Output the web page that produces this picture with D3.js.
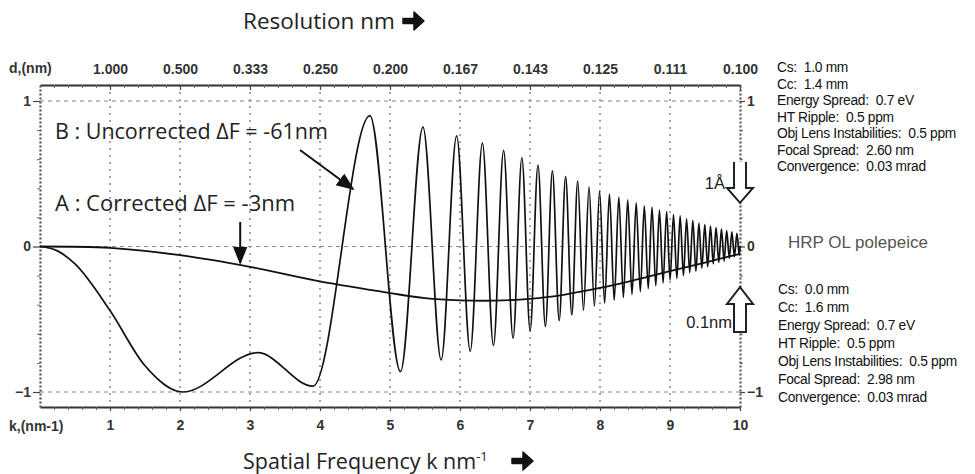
<!DOCTYPE html>
<html>
<head>
<meta charset="utf-8">
<script src="https://cdn.jsdelivr.net/npm/d3@7"></script>
<style>
  body { margin: 0; background: #fff; }
  svg { display: block; }
  .lbl { font-family: 'Liberation Sans', Arial, sans-serif; white-space: pre; }
</style>
</head>
<body>
<div id="chart"></div>
<script>
// k positions (nm-1) and tick labels
var kTicks = [1, 2, 3, 4, 5, 6, 7, 8, 9, 10];
var dLabels = ["1.000", "0.500", "0.333", "0.250", "0.200", "0.167", "0.143", "0.125", "0.111", "0.100"];
var yTicks = [-1, 0, 1];

// curve A : corrected, df = -3nm
var aK = [0, 1, 2, 3, 4, 5, 5.5, 6, 6.5, 7, 7.5, 8, 8.5, 9, 9.5, 10];
var aV = [0, -0.01, -0.06, -0.14, -0.24, -0.32, -0.355, -0.37, -0.372, -0.36, -0.33, -0.285, -0.23, -0.17, -0.11, -0.05];

// curve B : uncorrected, df = -61nm (turning points)
var bK = [0, 0.25, 0.5, 1.0, 1.5, 2.04, 3.11, 3.90,
  4.713, 5.150, 5.471, 5.731, 5.952, 6.146, 6.320, 6.478, 6.623, 6.758, 6.884, 7.002,
  7.114, 7.220, 7.320, 7.417, 7.509, 7.597, 7.682, 7.764, 7.843, 7.920, 7.994, 8.066,
  8.135, 8.203, 8.269, 8.334, 8.396, 8.457, 8.517, 8.576, 8.633, 8.689, 8.743, 8.797,
  8.849, 8.901, 8.952, 9.001, 9.050, 9.098, 9.145, 9.192, 9.237, 9.282, 9.326, 9.370,
  9.413, 9.455, 9.497, 9.538, 9.578, 9.618, 9.658, 9.697, 9.735, 9.773, 9.810, 9.847,
  9.884, 9.920, 9.956, 9.991, 10];
var bV = [0, -0.03, -0.12, -0.44, -0.82, -1.0, -0.73, -0.96,
  0.90, -0.86, 0.82, -0.78, 0.76, -0.72, 0.71, -0.68, 0.66, -0.63, 0.61, -0.58,
  0.56, -0.55, 0.52, -0.51, 0.48, -0.47, 0.45, -0.44, 0.41, -0.41, 0.38, -0.39,
  0.36, -0.37, 0.34, -0.35, 0.32, -0.33, 0.30, -0.31, 0.28, -0.29, 0.27, -0.27,
  0.25, -0.25, 0.24, -0.23, 0.22, -0.22, 0.21, -0.20, 0.19, -0.18, 0.18, -0.17,
  0.16, -0.15, 0.15, -0.14, 0.14, -0.12, 0.13, -0.11, 0.12, -0.10, 0.11, -0.08,
  0.10, -0.07, 0.09, -0.06, 0];

var paramsTop = ["Cs:  1.0 mm", "Cc:  1.4 mm", "Energy Spread:  0.7 eV", "HT Ripple:  0.5 ppm",
  "Obj Lens Instabilities:  0.5 ppm", "Focal Spread:  2.60 nm", "Convergence:  0.03 mrad"];
var paramsBottom = ["Cs:  0.0 mm", "Cc:  1.6 mm", "Energy Spread:  0.7 eV", "HT Ripple:  0.5 ppm",
  "Obj Lens Instabilities:  0.5 ppm", "Focal Spread:  2.98 nm", "Convergence:  0.03 mrad"];

var width = 975, height = 474;
var mLeft = 40, mRight = 740, mTop = 85, mBottom = 407;

var svg = d3.select('#chart').append('svg')
    .attr('width', width)
    .attr('height', height);

var x = d3.scaleLinear().domain([0, 10]).range([mLeft, mRight]);
var y = d3.scaleLinear().domain([-1, 1]).range([392, 101]);

var minorK = d3.range(0, 10.01, 0.2).filter(function(d) { return Math.abs(d - Math.round(d)) > 0.01; });
var minorY = d3.range(-1, 1.01, 0.2).filter(function(d) { return Math.abs(d - Math.round(d)) > 0.01; });

// grid
svg.append('g').selectAll('line')
    .data(yTicks).enter().append('line')
    .attr('x1', mLeft).attr('x2', mRight)
    .attr('y1', function(d) { return y(d); })
    .attr('y2', function(d) { return y(d); })
    .attr('stroke', '#888').attr('stroke-width', 1.2)
    .attr('stroke-dasharray', '4,4');

svg.append('g').selectAll('line')
    .data(kTicks.slice(0, 9)).enter().append('line')
    .attr('x1', function(d) { return x(d); })
    .attr('x2', function(d) { return x(d); })
    .attr('y1', mTop).attr('y2', mBottom)
    .attr('stroke', '#888').attr('stroke-width', 1.5)
    .attr('stroke-dasharray', '2,5');

// axes
function styleAxis(g, dashed) {
    g.selectAll('.domain').attr('stroke', dashed ? '#555' : '#333')
        .attr('stroke-width', 2.2)
        .attr('stroke-dasharray', dashed ? '2,2' : null);
    g.selectAll('.tick line').attr('stroke', '#444').attr('stroke-width', 1.2);
    g.selectAll('text').attr('class', 'lbl')
        .attr('font-size', 14).attr('font-weight', 'bold').attr('fill', '#333');
}
function minor(g) {
    g.select('.domain').remove();
    g.selectAll('line').attr('stroke', '#666');
}

var gTop = svg.append('g').attr('transform', 'translate(0,' + mTop + ')')
    .call(d3.axisTop(x).tickValues(kTicks).tickSize(4).tickPadding(7).tickSizeOuter(0)
        .tickFormat(function(d, i) { return dLabels[i]; }));
styleAxis(gTop, false);
gTop.selectAll('.tick line').attr('y2', 5);
svg.append('g').attr('transform', 'translate(0,' + mTop + ')')
    .call(d3.axisBottom(x).tickValues(minorK).tickSize(3).tickFormat(''))
    .call(minor);

var gBot = svg.append('g').attr('transform', 'translate(0,' + mBottom + ')')
    .call(d3.axisBottom(x).tickValues(kTicks).tickSize(4).tickPadding(9).tickSizeOuter(0));
styleAxis(gBot, false);
svg.append('g').attr('transform', 'translate(0,' + mBottom + ')')
    .call(d3.axisBottom(x).tickValues(minorK).tickSize(3).tickFormat(''))
    .call(minor);

var yFull = d3.scaleLinear().domain([y.invert(mBottom), y.invert(mTop)]).range([mBottom, mTop]);

var gLeft = svg.append('g').attr('transform', 'translate(' + mLeft + ',0)')
    .call(d3.axisLeft(yFull).tickValues(yTicks).tickSize(7).tickPadding(2).tickSizeOuter(0)
        .tickFormat(d3.format('d')));
styleAxis(gLeft, true);
svg.append('g').attr('transform', 'translate(' + mLeft + ',0)')
    .call(d3.axisLeft(yFull).tickValues(minorY).tickSize(3).tickFormat(''))
    .call(minor);

var gRight = svg.append('g').attr('transform', 'translate(' + mRight + ',0)')
    .call(d3.axisRight(yFull).tickValues(yTicks).tickSize(5).tickPadding(2).tickSizeOuter(0)
        .tickFormat(d3.format('d')));
styleAxis(gRight, true);
svg.append('g').attr('transform', 'translate(' + mRight + ',0)')
    .call(d3.axisRight(yFull).tickValues(minorY).tickSize(3).tickFormat(''))
    .call(minor);

// corner captions
svg.append('text').attr('class', 'lbl').attr('x', 9).attr('y', 73)
    .attr('font-size', 14).attr('font-weight', 'bold').attr('fill', '#333').text('d,(nm)');
svg.append('text').attr('class', 'lbl').attr('x', 9).attr('y', 431)
    .attr('font-size', 14).attr('font-weight', 'bold').attr('fill', '#333').text('k,(nm-1)');

// curves
var line = d3.line()
    .x(function(d) { return x(d[0]); })
    .y(function(d) { return y(d[1]); });

svg.append('path')
    .datum(bK.map(function(k, i) { return [k, bV[i]]; }))
    .attr('d', line.curve(d3.curveMonotoneX))
    .attr('fill', 'none').attr('stroke', '#111').attr('stroke-width', 1.7);

svg.append('path')
    .datum(aK.map(function(k, i) { return [k, aV[i]]; }))
    .attr('d', line.curve(d3.curveCatmullRom))
    .attr('fill', 'none').attr('stroke', '#111').attr('stroke-width', 1.8);

// annotations
svg.append('defs').append('marker')
    .attr('id', 'head').attr('viewBox', '0 0 10 10').attr('refX', 9).attr('refY', 5)
    .attr('markerWidth', 9).attr('markerHeight', 9).attr('orient', 'auto')
    .append('path').attr('d', 'M0,1 L10,5 L0,9 Z').attr('fill', '#111');

var sans = "'Open Sans', 'Noto Sans', sans-serif";
svg.append('text').attr('x', 55).attr('y', 139).attr('font-family', sans)
    .attr('font-size', 21.5).attr('fill', '#222').text('B : Uncorrected \u0394F = -61nm');
svg.append('text').attr('x', 55).attr('y', 211).attr('font-family', sans)
    .attr('font-size', 22).attr('fill', '#222').text('A : Corrected \u0394F = -3nm');

svg.append('line').attr('x1', 300).attr('y1', 150).attr('x2', 353).attr('y2', 189)
    .attr('stroke', '#111').attr('stroke-width', 2).attr('marker-end', 'url(#head)');
svg.append('line').attr('x1', x(2.86)).attr('y1', 222).attr('x2', x(2.86)).attr('y2', 263)
    .attr('stroke', '#111').attr('stroke-width', 2).attr('marker-end', 'url(#head)');

// hollow arrows on the right axis
var ax = x(10);
svg.append('path')
    .attr('d', 'M' + (ax - 6) + ',162 V188 H' + (ax - 13) + ' L' + ax + ',' + y(0.3) +
        ' L' + (ax + 13) + ',188 H' + (ax + 6) + ' V162')
    .attr('fill', '#fff').attr('stroke', '#222').attr('stroke-width', 2);
svg.append('path')
    .attr('d', 'M' + (ax - 6) + ',332 V304 H' + (ax - 13) + ' L' + ax + ',' + y(-0.28) +
        ' L' + (ax + 13) + ',304 H' + (ax + 6) + ' V332 Z')
    .attr('fill', '#fff').attr('stroke', '#222').attr('stroke-width', 2);
svg.append('text').attr('class', 'lbl').attr('x', 725).attr('y', 189).attr('text-anchor', 'end')
    .attr('font-size', 16.5).attr('fill', '#222').text('1\u00c5');
svg.append('text').attr('class', 'lbl').attr('x', 732).attr('y', 328).attr('text-anchor', 'end')
    .attr('font-size', 16.5).attr('fill', '#222').text('0.1nm');

// parameter panels
svg.append('g').selectAll('text').data(paramsTop).enter().append('text')
    .attr('class', 'lbl').attr('x', 777)
    .attr('y', function(d, i) { return 72 + i * 16.5; })
    .attr('font-size', 13.8).attr('letter-spacing', -0.3).attr('fill', '#111')
    .text(function(d) { return d; });
svg.append('text').attr('class', 'lbl').attr('x', 788).attr('y', 248)
    .attr('font-size', 17).attr('fill', '#555').text('HRP OL polepeice');
svg.append('g').selectAll('text').data(paramsBottom).enter().append('text')
    .attr('class', 'lbl').attr('x', 778)
    .attr('y', function(d, i) { return 294 + i * 18; })
    .attr('font-size', 13.8).attr('letter-spacing', -0.3).attr('fill', '#111')
    .text(function(d) { return d; });

// axis titles
function bigArrow(cx, cy) {
    svg.append('path')
        .attr('transform', 'translate(' + cx + ',' + cy + ')')
        .attr('d', 'M0,-2.5 H11 V-9 L21,0 L11,9 V2.5 H0 Z')
        .attr('fill', '#111').attr('stroke', '#111').attr('stroke-width', 1.5)
        .attr('stroke-linejoin', 'round');
}
svg.append('text').attr('x', 243).attr('y', 29).attr('font-family', sans)
    .attr('font-size', 22.5).attr('fill', '#222').text('Resolution nm');
bigArrow(403, 21);

var xt = svg.append('text').attr('x', 243).attr('y', 469).attr('font-family', sans)
    .attr('font-size', 21.5).attr('fill', '#222');
xt.append('tspan').text('Spatial Frequency k nm');
xt.append('tspan').attr('dy', -8).attr('font-size', 13).text('-1');
bigArrow(512, 461);
</script>
</body>
</html>
